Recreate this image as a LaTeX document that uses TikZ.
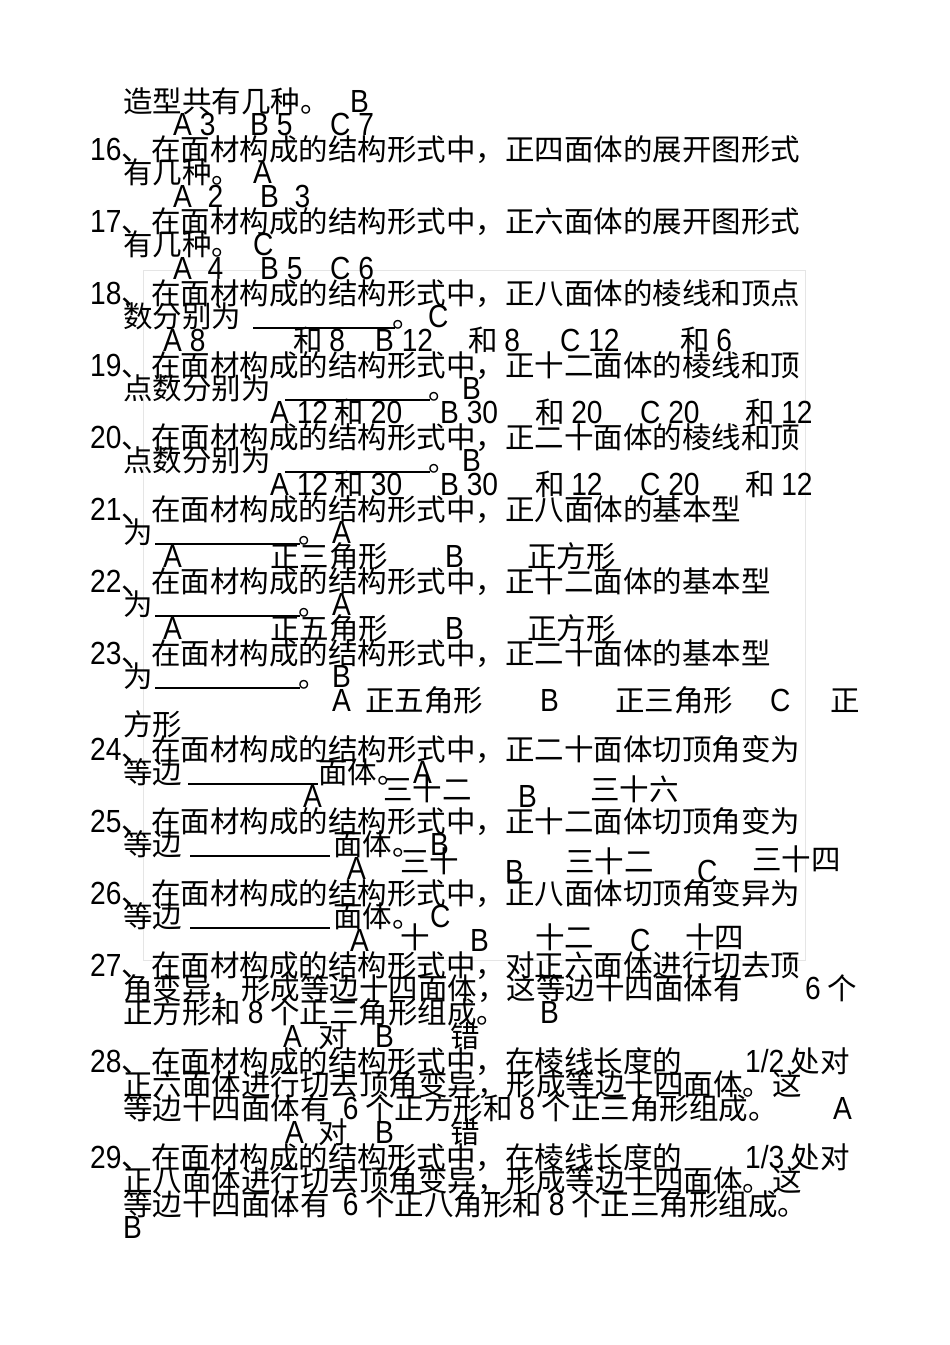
\documentclass[tikz,border=0pt]{standalone}
\usepackage{fontspec}
\setmainfont{Liberation Sans}[FakeStretch=0.88]
\newfontfamily\zh{Noto Sans CJK SC}
\newcommand\en[1]{{\rmfamily\fontsize{32}{32}\selectfont #1}}
\begin{document}
\begin{tikzpicture}[x=1pt,y=-1pt,
  txt/.style={anchor=base west,inner sep=0pt,font=\zh\fontsize{29.5}{29.5}\selectfont,text=black},
  lat/.style={anchor=base west,inner sep=0pt,font=\rmfamily\fontsize{32}{32}\selectfont,text=black},
  ul/.style={line width=1.2pt,black}]
\newcommand\T[3]{\node[txt] at (#1,#2) {#3};}
\newcommand\E[3]{\node[lat] at (#1,#2) {#3};}
\newcommand\U[3]{\draw[ul] (#1,#3) -- (#2,#3);}
\fill[white] (0,0) rectangle (950,1345);
\draw[black!10,line width=0.6pt] (143,270) rectangle (805,960);
% 15
\T{123}{112}{造型共有几种。} \E{350}{112}{B}
\E{173}{135}{A 3} \E{250}{135}{B 5} \E{330}{135}{C 7}
% 16
\T{90}{160}{\en{16}、在面材构成的结构形式中，正四面体的展开图形式}
\T{123}{183}{有几种。} \E{253}{183}{A}
\E{173}{207}{A\ \ 2} \E{260}{207}{B\ \ 3}
% 17
\T{90}{232}{\en{17}、在面材构成的结构形式中，正六面体的展开图形式}
\T{123}{255}{有几种。} \E{253}{255}{C}
\E{173}{279}{A\ \ 4} \E{260}{279}{B 5} \E{330}{279}{C 6}
% 18
\T{90}{304}{\en{18}、在面材构成的结构形式中，正八面体的棱线和顶点}
\T{123}{327}{数分别为} \U{253}{395}{328} \T{392}{327}{。} \E{428}{327}{C}
\E{163}{351}{A 8} \T{293}{351}{和 \en{8}} \E{375}{351}{B 12} \T{468}{351}{和 \en{8}} \E{560}{351}{C 12} \T{680}{351}{和 \en{6}}
% 19
\T{90}{376}{\en{19}、在面材构成的结构形式中，正十二面体的棱线和顶}
\T{123}{399}{点数分别为} \U{285}{430}{400} \T{428}{399}{。} \E{462}{399}{B}
\T{270}{423}{\en{A 12} 和 \en{20}} \E{440}{423}{B 30} \T{535}{423}{和 \en{20}} \E{640}{423}{C 20} \T{745}{423}{和 \en{12}}
% 20
\T{90}{448}{\en{20}、在面材构成的结构形式中，正二十面体的棱线和顶}
\T{123}{471}{点数分别为} \U{285}{430}{472} \T{428}{471}{。} \E{462}{471}{B}
\T{270}{495}{\en{A 12} 和 \en{30}} \E{440}{495}{B 30} \T{535}{495}{和 \en{12}} \E{640}{495}{C 20} \T{745}{495}{和 \en{12}}
% 21
\T{90}{520}{\en{21}、在面材构成的结构形式中，正八面体的基本型}
\T{123}{543}{为} \U{155}{300}{544} \T{298}{543}{。} \E{332}{543}{A}
\E{163}{567}{A} \T{270}{567}{正三角形} \E{445}{567}{B} \T{527}{567}{正方形}
% 22
\T{90}{592}{\en{22}、在面材构成的结构形式中，正十二面体的基本型}
\T{123}{615}{为} \U{155}{300}{616} \T{298}{615}{。} \E{332}{615}{A}
\E{163}{639}{A} \T{270}{639}{正五角形} \E{445}{639}{B} \T{527}{639}{正方形}
% 23
\T{90}{664}{\en{23}、在面材构成的结构形式中，正二十面体的基本型}
\T{123}{687}{为} \U{155}{300}{688} \T{298}{687}{。} \E{332}{687}{B}
\E{332}{711}{A} \T{365}{711}{正五角形} \E{540}{711}{B} \T{615}{711}{正三角形} \E{770}{711}{C} \T{830}{711}{正}
\T{123}{735}{方形}
% 24
\T{90}{760}{\en{24}、在面材构成的结构形式中，正二十面体切顶角变为}
\T{123}{783}{等边} \U{188}{318}{784} \T{318}{783}{面体。} \E{413}{783}{A}
\E{303}{807}{A} \T{383}{800}{三十二} \E{518}{807}{B} \T{590}{800}{三十六}
% 25
\T{90}{832}{\en{25}、在面材构成的结构形式中，正十二面体切顶角变为}
\T{123}{855}{等边} \U{190}{330}{856} \T{333}{855}{面体。} \E{430}{855}{B}
\E{347}{879}{A} \T{400}{872}{三十} \E{505}{882}{B} \T{565}{872}{三十二} \E{697}{882}{C} \T{752}{870}{三十四}
% 26
\T{90}{904}{\en{26}、在面材构成的结构形式中，正八面体切顶角变异为}
\T{123}{927}{等边} \U{190}{330}{928} \T{333}{927}{面体。} \E{430}{927}{C}
\E{350}{951}{A} \T{400}{948}{十} \E{470}{951}{B} \T{535}{948}{十二} \E{630}{951}{C} \T{685}{948}{十四}
% 27
\T{90}{976}{\en{27}、在面材构成的结构形式中，对正六面体进行切去顶}
\T{123}{999}{角变异，形成等边十四面体，这等边十四面体有} \T{805}{999}{\en{6} 个}
\T{123}{1023}{正方形和\ \en{8} 个正三角形组成。} \E{540}{1023}{B}
\E{283}{1047}{A} \T{318}{1047}{对} \E{375}{1047}{B} \T{450}{1047}{错}
% 28
\T{90}{1072}{\en{28}、在面材构成的结构形式中，在棱线长度的} \T{745}{1072}{\en{1/2} 处对}
\T{123}{1095}{正六面体进行切去顶角变异，形成等边十四面体。这}
\T{123}{1119}{等边十四面体有\ \ \en{6} 个正方形和\ \en{8} 个正三角形组成。} \E{833}{1119}{A}
\E{285}{1143}{A} \T{318}{1143}{对} \E{375}{1143}{B} \T{450}{1143}{错}
% 29
\T{90}{1168}{\en{29}、在面材构成的结构形式中，在棱线长度的} \T{745}{1168}{\en{1/3} 处对}
\T{123}{1191}{正八面体进行切去顶角变异，形成等边十四面体。这}
\T{123}{1215}{等边十四面体有\ \ \en{6} 个正八角形和\ \en{8} 个正三角形组成。}
\E{123}{1238}{B}
\end{tikzpicture}
\end{document}
